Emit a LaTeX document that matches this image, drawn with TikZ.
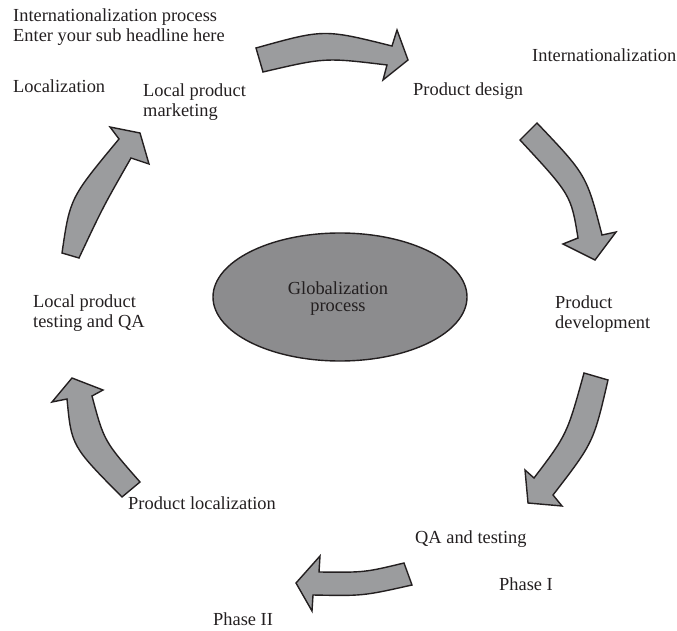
\documentclass[tikz,border=0pt]{standalone}
\usepackage{fontspec}
\usetikzlibrary{shapes.geometric}
\setmainfont{Liberation Serif}
\definecolor{txt}{HTML}{231F20}
\definecolor{arrowfill}{HTML}{9B9C9E}
\definecolor{ellfill}{HTML}{8C8C8E}
\definecolor{outline}{HTML}{231F20}
\begin{document}
\begin{tikzpicture}[x=1pt,y=-1pt,
  lbl/.style={anchor=base west,inner sep=0pt,text=txt,align=left,font=\fontsize{18.4}{20}\selectfont},
  blockarrow/.style={fill=arrowfill,draw=outline,line width=1.4pt,line join=miter}]
\useasboundingbox (0,0) rectangle (677,631);
% central ellipse
\node[draw=outline,fill=ellfill,line width=1.4pt,ellipse,minimum width=254pt,minimum height=128pt,inner sep=0pt] (glob) at (340,297) {};
% (base of a multi-line node = baseline of its last line)
\node[inner sep=0pt,text=txt,align=center,font=\fontsize{18.4}{17}\selectfont,anchor=base] (globtxt) at (338,311) {Globalization\\process};
% labels
\node[lbl] (title) at (13,41.7) {Internationalization process\\Enter your sub headline here};
\node[lbl] (loc) at (13,93) {Localization};
\node[lbl] (lpm) at (143,117) {Local product\\marketing};
\node[lbl] (intl) at (532,62) {Internationalization};
\node[lbl] (pd) at (413,96) {Product design};
\node[lbl] (pdev) at (555,328) {Product\\development};
\node[lbl] (lpt) at (33,327.5) {Local product\\testing and QA};
\node[lbl] (qa) at (415,543) {QA and testing};
\node[lbl] (ph1) at (499,590) {Phase I};
\node[lbl] (ph2) at (213,625) {Phase II};
\node[lbl] (ploc) at (128,509) {Product localization};
% block arrows
\draw[blockarrow] (256,48) .. controls (324,29) .. (392,46) -- (397,30) -- (408,60) -- (383,80) -- (387,65) .. controls (325,57.5) .. (263,72) -- cycle;
\draw[blockarrow] (537,123) .. controls (586.5,175) .. (602,235) -- (616,232) -- (595,260) -- (563,244) -- (578,238) .. controls (571,195) .. (520,140) -- cycle;
\draw[blockarrow] (584,373) -- (608,380) .. controls (593.5,442.5) .. (553,495) -- (562,506) -- (528,503) -- (525,470) -- (534,478) .. controls (567,434.5) .. cycle;
\draw[blockarrow] (404,563) -- (412,585) .. controls (363,596) .. (313,595) -- (312,611) -- (296,583) -- (320,556) -- (319,572) .. controls (364.5,572.5) .. cycle;
\draw[blockarrow] (122,497) -- (140,482) .. controls (104,441) .. (92,396) -- (103,390) -- (72,378) -- (52,402) -- (67,399) .. controls (71.5,446) .. cycle;
\draw[blockarrow] (62,253) -- (79,258) .. controls (103,207) .. (131,158) -- (149,164) -- (140,133) -- (110,127) -- (119,139) .. controls (70,198) .. cycle;
\end{tikzpicture}
\end{document}
